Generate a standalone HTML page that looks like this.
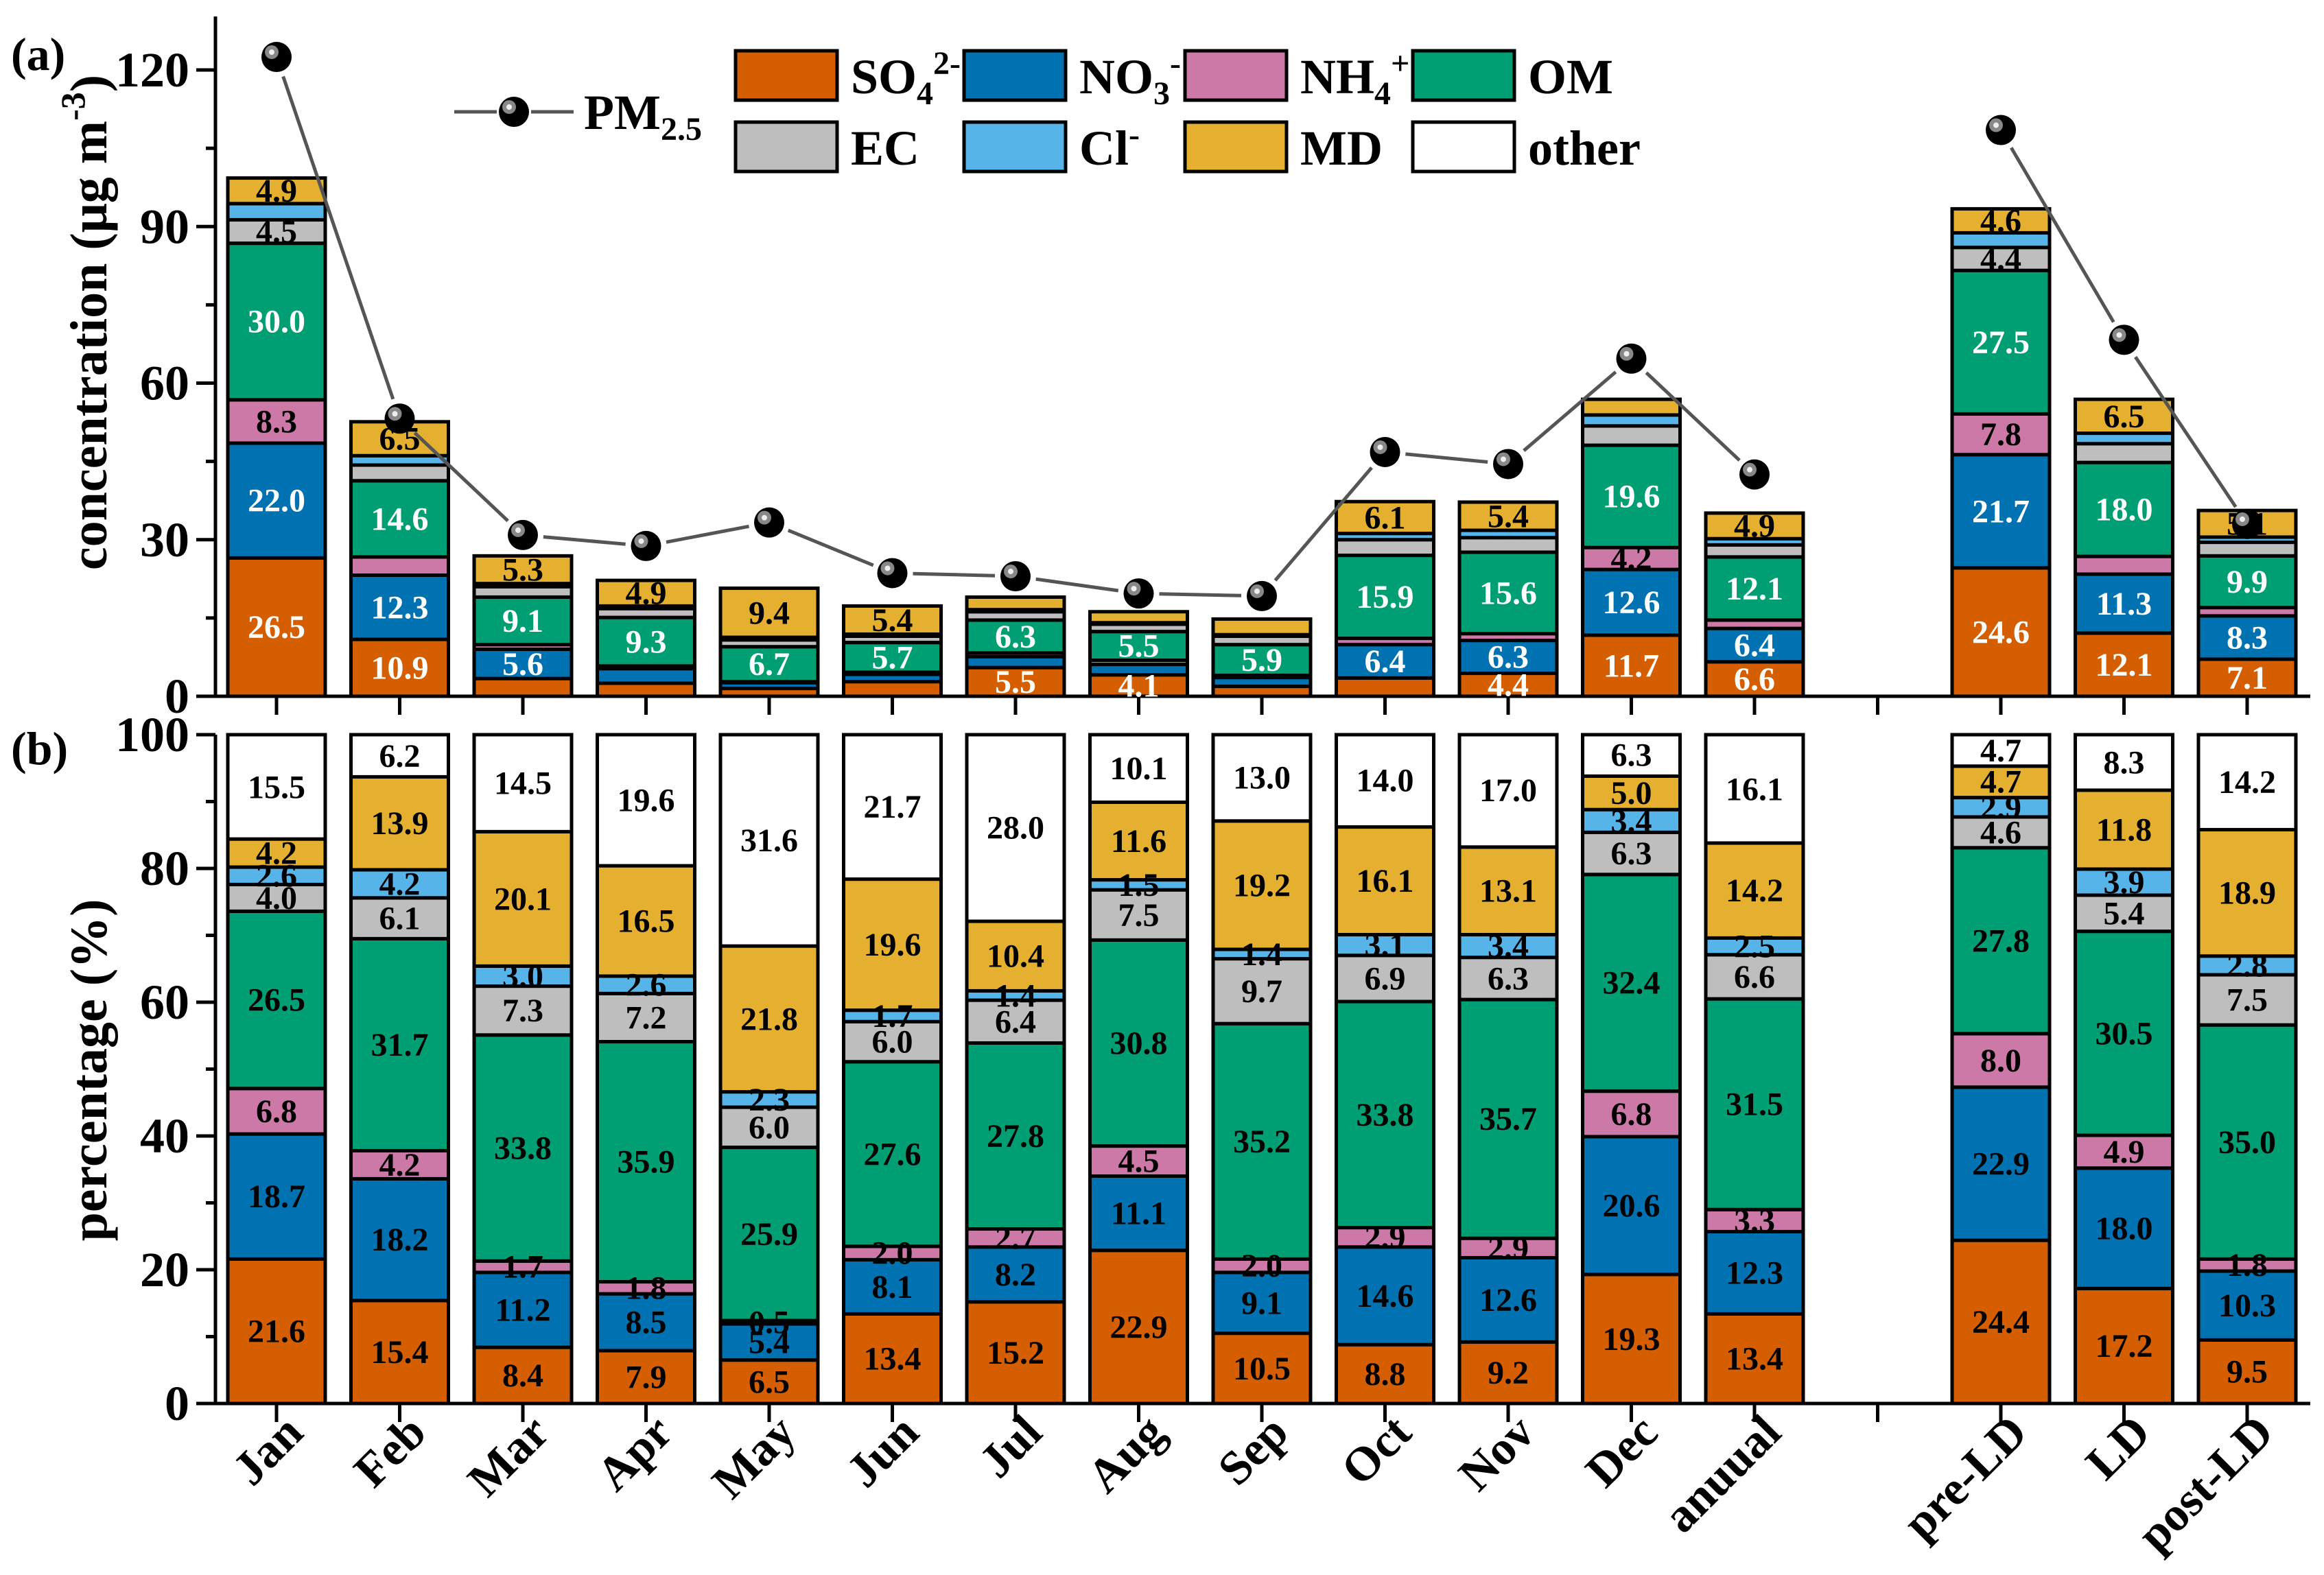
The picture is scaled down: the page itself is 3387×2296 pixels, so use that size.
<!DOCTYPE html>
<html><head><meta charset="utf-8"><style>
html,body{margin:0;padding:0;background:#fff;}
svg, svg text, svg tspan{font-family:"Liberation Serif","Times New Roman",serif;font-weight:bold;}
</style></head><body>
<svg id="chart" width="3387" height="2291" viewBox="0 0 3387 2291" xmlns="http://www.w3.org/2000/svg" font-family="Liberation Serif, serif" font-weight="bold">
<g id="axes"></g>
<g id="barsA"></g>
<g id="barsB"></g>
<g id="pmline"></g>
<text x="16" y="102" font-size="68">(a)</text>
<text x="16" y="1114" font-size="68">(b)</text>
<text transform="translate(155,470) rotate(-90)" text-anchor="middle" font-size="76">concentration (μg m<tspan font-size="50" dy="-32">-3</tspan><tspan dy="32">)</tspan></text>
<text transform="translate(155,1560) rotate(-90)" text-anchor="middle" font-size="76">percentage (%)</text>
<g id="legend"></g>
</svg>
<script>
const categories=["Jan","Feb","Mar","Apr","May","Jun","Jul","Aug","Sep","Oct","Nov","Dec","anuual","","pre-LD","LD","post-LD"];
const pm25=[122.5,53.2,30.9,28.8,33.3,23.6,23.0,19.7,19.2,46.8,44.5,64.7,42.5,null,108.5,68.3,33.0];
// concentrations (ug m-3)
const cSO4=[26.5,10.9,3.4,2.5,1.5,2.8,5.5,4.1,1.9,3.5,4.4,11.7,6.6,null,24.6,12.1,7.1];
const cNO3=[22.0,12.3,5.6,2.8,1.1,1.4,2.1,2.0,1.7,6.4,6.3,12.6,6.4,null,21.7,11.3,8.3];
const cNH4=[8.3,3.5,0.9,0.5,0.2,0.4,0.7,0.8,0.4,1.2,1.3,4.2,1.6,null,7.8,3.4,1.6];
const cOM=[30.0,14.6,9.1,9.3,6.7,5.7,6.3,5.5,5.9,15.9,15.6,19.6,12.1,null,27.5,18.0,9.9];
const cEC=[4.5,3.0,2.0,1.7,1.3,1.2,1.6,1.4,1.6,3.0,2.8,3.7,2.3,null,4.4,3.6,2.6];
const cCl=[3.1,1.8,0.6,0.5,0.5,0.4,0.4,0.3,0.3,1.2,1.4,2.1,1.2,null,2.8,2.0,1.0];
const cMD=[4.9,6.5,5.3,4.9,9.4,5.4,2.4,2.1,3.0,6.1,5.4,3.0,4.9,null,4.6,6.5,5.1];
// percentages (%)
const pSO4=[21.6,15.4,8.4,7.9,6.5,13.4,15.2,22.9,10.5,8.8,9.2,19.3,13.4,null,24.4,17.2,9.5];
const pNO3=[18.7,18.2,11.2,8.5,5.4,8.1,8.2,11.1,9.1,14.6,12.6,20.6,12.3,null,22.9,18.0,10.3];
const pNH4=[6.8,4.2,1.7,1.8,0.5,2.0,2.7,4.5,2.0,2.9,2.9,6.8,3.3,null,8.0,4.9,1.8];
const pOM=[26.5,31.7,33.8,35.9,25.9,27.6,27.8,30.8,35.2,33.8,35.7,32.4,31.5,null,27.8,30.5,35.0];
const pEC=[4.0,6.1,7.3,7.2,6.0,6.0,6.4,7.5,9.7,6.9,6.3,6.3,6.6,null,4.6,5.4,7.5];
const pCl=[2.6,4.2,3.0,2.6,2.3,1.7,1.4,1.5,1.4,3.1,3.4,3.4,2.5,null,2.9,3.9,2.8];
const pMD=[4.2,13.9,20.1,16.5,21.8,19.6,10.4,11.6,19.2,16.1,13.1,5.0,14.2,null,4.7,11.8,18.9];
const pOther=[15.5,6.2,14.5,19.6,31.6,21.7,28.0,10.1,13.0,14.0,17.0,6.3,16.1,null,4.7,8.3,14.2];
const yTicksA=[0,30,60,90,120];
const yTicksB=[0,20,40,60,80,100];

const NS="http://www.w3.org/2000/svg";
const colors=["#D55E00","#0072B2","#CC79A7","#009E73","#BEBEBE","#56B4E9","#E5B030","#FFFFFF"];
const names=["so4","no3","nh4","om","ec","cl","md","other"];
const whiteTextA=[true,true,false,true,false,false,false,false];
const xAxisL=314,xAxisR=3367;
function xC(i){return 403+i*179.5;}
function yA(v){return 1015-v*7.608;}
function yB(v){return 2046-v*9.75;}
const BW=142;
function mk(tag,attrs,parent){const e=document.createElementNS(NS,tag);for(const k in attrs)e.setAttribute(k,attrs[k]);parent.appendChild(e);return e;}

const axes=document.getElementById('axes');
let el=mk('line',{x1:xAxisL,y1:24,x2:xAxisL,y2:1017,stroke:'#000','stroke-width':5},axes);


el=mk('line',{x1:xAxisL-2,y1:1015,x2:xAxisR,y2:1015,stroke:'#000','stroke-width':5},axes);


el=mk('line',{x1:xAxisL,y1:1071,x2:xAxisL,y2:2048,stroke:'#000','stroke-width':5},axes);


el=mk('line',{x1:xAxisL-2,y1:2046,x2:xAxisR,y2:2046,stroke:'#000','stroke-width':5},axes);


for(let v=0;v<=127;v+=15){
  const major=v%30===0;
  mk('line',{x1:xAxisL-(major?28:14),y1:yA(v),x2:xAxisL,y2:yA(v),stroke:'#000','stroke-width':5},axes);
}
yTicksA.forEach(v=>{
  const t=mk('text',{x:xAxisL-38,y:yA(v)+24,'text-anchor':'end','font-size':72},axes);
  t.textContent=v;
  
  
});
for(let v=0;v<=100;v+=10){
  const major=v%20===0;
  mk('line',{x1:xAxisL-(major?28:14),y1:yB(v),x2:xAxisL,y2:yB(v),stroke:'#000','stroke-width':5},axes);
}
yTicksB.forEach(v=>{
  const t=mk('text',{x:xAxisL-38,y:yB(v)+24,'text-anchor':'end','font-size':72},axes);
  t.textContent=v;
  
  
});
categories.forEach((c,i)=>{
  mk('line',{x1:xC(i),y1:1015,x2:xC(i),y2:1042,stroke:'#000','stroke-width':5},axes);
  mk('line',{x1:xC(i),y1:2046,x2:xC(i),y2:2073,stroke:'#000','stroke-width':5},axes);
  if(c){
    const t=mk('text',{transform:`translate(${xC(i)+42},2092) rotate(-45)`,'text-anchor':'end','font-size':70},axes);
    t.textContent=c;
    
    
  }
});

const seriesA=[cSO4,cNO3,cNH4,cOM,cEC,cCl,cMD];
const seriesB=[pSO4,pNO3,pNH4,pOM,pEC,pCl,pMD,pOther];
function drawStack(g,series,yf,panel){
  categories.forEach((c,i)=>{
    if(series[0][i]==null)return;
    let base=0;
    series.forEach((s,k)=>{
      const v=s[i];
      let top=base+v;
      if(panel==='b'&&k===series.length-1)top=100;
      const r=mk('rect',{x:xC(i)-BW/2,y:yf(top),width:BW,height:Math.max(0,yf(base)-yf(top)),fill:colors[k],stroke:'#000','stroke-width':5},g);
      
      
      base+=v;
    });
    base=0;
    series.forEach((s,k)=>{
      const v=s[i];
      const mid=(yf(base)+yf(base+v))/2;
      const show=panel==='b'||v>=4;
      if(show){
        const t=mk('text',{x:xC(i),y:mid+16,'text-anchor':'middle','font-size':48,fill:(panel==='a'&&whiteTextA[k])?'#fff':'#000'},g);
        t.textContent=v.toFixed(1);
        
        
      }
      base+=v;
    });
  });
}
drawStack(document.getElementById('barsA'),seriesA,yA,'a');
drawStack(document.getElementById('barsB'),seriesB,yB,'b');

function ball(g,cx,cy){
  const c=mk('circle',{cx:cx,cy:cy,r:22,fill:'#000'},g);
  
  
  mk('circle',{cx:cx-7,cy:cy-7,r:10,fill:'#888'},g);
  mk('circle',{cx:cx-7,cy:cy-7,r:4,fill:'#eee'},g);
}
const pg=document.getElementById('pmline');
function seg(i,j){
  const x1=xC(i),y1=yA(pm25[i]),x2=xC(j),y2=yA(pm25[j]);
  const dx=x2-x1,dy=y2-y1,L=Math.hypot(dx,dy),g=30;
  const s=mk('line',{x1:x1+dx*g/L,y1:y1+dy*g/L,x2:x2-dx*g/L,y2:y2-dy*g/L,stroke:'#555','stroke-width':5},pg);
  
  
}
for(let i=0;i<12;i++)seg(i,i+1);
seg(14,15);seg(15,16);
pm25.forEach((v,i)=>{if(v!=null)ball(pg,xC(i),yA(v));});

const lg=document.getElementById('legend');
mk('line',{x1:662,y1:163,x2:724,y2:163,stroke:'#555','stroke-width':5},lg);
mk('line',{x1:774,y1:163,x2:836,y2:163,stroke:'#555','stroke-width':5},lg);
ball(lg,749,163);
let lt=mk('text',{x:851,y:188,'font-size':72},lg);
lt.innerHTML='PM<tspan font-size="48" dy="16">2.5</tspan>';


const legLabels=['SO<tspan font-size="48" dy="16">4</tspan><tspan font-size="48" dy="-44">2-</tspan>','NO<tspan font-size="48" dy="16">3</tspan><tspan font-size="48" dy="-44">-</tspan>','NH<tspan font-size="48" dy="16">4</tspan><tspan font-size="48" dy="-44">+</tspan>','OM','EC','Cl<tspan font-size="48" dy="-28">-</tspan>','MD','other'];
const colX=[1072,1405,1727,2059];
const rowY=[74,178];
legLabels.forEach((h,k)=>{
  const cx=colX[k%4],ry=rowY[Math.floor(k/4)];
  const r=mk('rect',{x:cx,y:ry,width:148,height:72,fill:colors[k],stroke:'#000','stroke-width':5},lg);
  
  
  const t=mk('text',{x:cx+168,y:ry+62,'font-size':72},lg);
  t.innerHTML=h;
  
  
});
</script>
</body></html>
